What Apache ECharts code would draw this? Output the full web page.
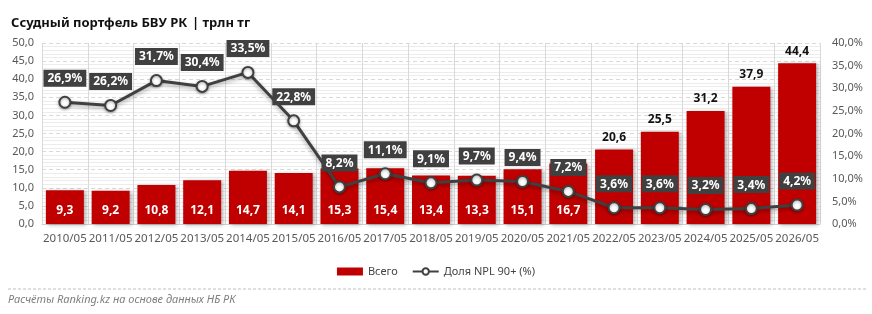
<!DOCTYPE html>
<html>
<head>
<meta charset="utf-8">
<script src="https://cdn.jsdelivr.net/npm/echarts@6/dist/echarts.min.js"></script>
<style>
  html, body { margin: 0; padding: 0; background: #fff; }
  #main { width: 872px; height: 314px; }
</style>
</head>
<body>
<div id="main"></div>
<script>
// данные
var categories = ['2010/05','2011/05','2012/05','2013/05','2014/05','2015/05','2016/05','2017/05','2018/05',
  '2019/05','2020/05','2021/05','2022/05','2023/05','2024/05','2025/05','2026/05'];
var totalValues = [9.3, 9.2, 10.8, 12.1, 14.7, 14.1, 15.3, 15.4, 13.4, 13.3, 15.1, 16.7, 20.6, 25.5, 31.2, 37.9, 44.4];
var nplValues = [26.9, 26.2, 31.7, 30.4, 33.5, 22.8, 8.2, 11.1, 9.1, 9.7, 9.4, 7.2, 3.6, 3.6, 3.2, 3.4, 4.2];

var FONT = '"Noto Sans", "Open Sans", sans-serif';
function comma(v, d) { return v.toFixed(d).replace('.', ','); }

// бары: первые 12 подписи внутри, остальные сверху
var barData = totalValues.map(function (v, i) {
  var inside = i < 12;
  return {
    value: v,
    label: inside ? {
      position: 'insideBottom', distance: 7, color: '#fff'
    } : {
      position: 'top', distance: 6, color: '#111'
    }
  };
});

var chart = echarts.init(document.getElementById('main'));
var option = {
  animation: false,
  textStyle: { fontFamily: FONT },
  title: {
    left: 6, top: 9,
    text: '{b|Ссудный портфель БВУ РК} {s|| трлн тг}',
    textStyle: {
      rich: {
        b: { fontFamily: FONT, fontSize: 13, fontWeight: 'bold', color: '#111' },
        s: { fontFamily: FONT, fontSize: 13, color: '#111' }
      }
    }
  },
  legend: {
    top: 261, left: 'center',
    itemGap: 14, itemWidth: 26, itemHeight: 8,
    textStyle: { fontFamily: FONT, fontSize: 11, color: '#444' },
    data: [
      { name: 'Всего', icon: 'rect' },
      { name: 'Доля NPL 90+ (%)' }
    ]
  },
  grid: { left: 42, right: 52, top: 43, bottom: 90 },
  xAxis: {
    type: 'category',
    data: categories,
    axisLine: { lineStyle: { color: '#d0d0d0' } },
    axisTick: { show: false },
    axisLabel: { color: '#595959', fontSize: 11.5, margin: 9, interval: 0 },
    splitLine: { show: true, lineStyle: { color: '#d9d9d9' } }
  },
  yAxis: [{
    type: 'value', min: 0, max: 50, interval: 5,
    axisLine: { show: false }, axisTick: { show: false },
    axisLabel: { color: '#595959', fontSize: 11, formatter: function (v) { return comma(v, 1); } },
    splitLine: { lineStyle: { color: '#d9d9d9', type: [4, 3] } },
    minorTick: { show: false, splitNumber: 5 },
    minorSplitLine: { show: true, lineStyle: { color: '#ececec' } }
  }, {
    type: 'value', min: 0, max: 40, interval: 5,
    axisLine: { show: false }, axisTick: { show: false },
    axisLabel: { color: '#595959', fontSize: 11, margin: 12, formatter: function (v) { return comma(v, 1) + '%'; } },
    splitLine: { show: false }
  }],
  series: [{
    name: 'Всего',
    type: 'bar',
    barCategoryGap: '17%',
    itemStyle: {
      color: '#c00000',
      shadowColor: 'rgba(0,0,0,0.3)', shadowBlur: 4, shadowOffsetX: 2, shadowOffsetY: 1
    },
    label: {
      show: true, fontWeight: 'bold', fontSize: 12, fontFamily: FONT,
      formatter: function (p) { return comma(p.value, 1); }
    },
    data: barData
  }, {
    name: 'Доля NPL 90+ (%)',
    type: 'line',
    yAxisIndex: 1,
    symbol: 'circle', symbolSize: 11,
    lineStyle: { color: '#404040', width: 3, shadowColor: 'rgba(0,0,0,0.35)', shadowBlur: 4, shadowOffsetY: 2 },
    itemStyle: { color: '#fff', borderColor: '#404040', borderWidth: 2, shadowColor: 'rgba(0,0,0,0.35)', shadowBlur: 3, shadowOffsetY: 1 },
    label: {
      show: true, position: 'top', distance: 9,
      backgroundColor: '#404040', color: '#fff', fontWeight: 'bold', fontSize: 12, fontFamily: FONT,
      padding: [3, 4, 2, 4],
      formatter: function (p) { return comma(p.value, 1) + '%'; }
    },
    data: nplValues,
    z: 5
  }],
  graphic: [{
    type: 'line',
    shape: { x1: 8, y1: 289, x2: 866, y2: 289 },
    style: { stroke: '#bfbfbf', lineWidth: 1, lineDash: [3, 2] }
  }, {
    type: 'text', left: 8, top: 294,
    style: { text: 'Расчёты Ranking.kz на основе данных НБ РК', fill: '#7f7f7f', fontSize: 11, fontStyle: 'italic', fontFamily: FONT }
  }]
};
chart.setOption(option);
</script>
</body>
</html>
